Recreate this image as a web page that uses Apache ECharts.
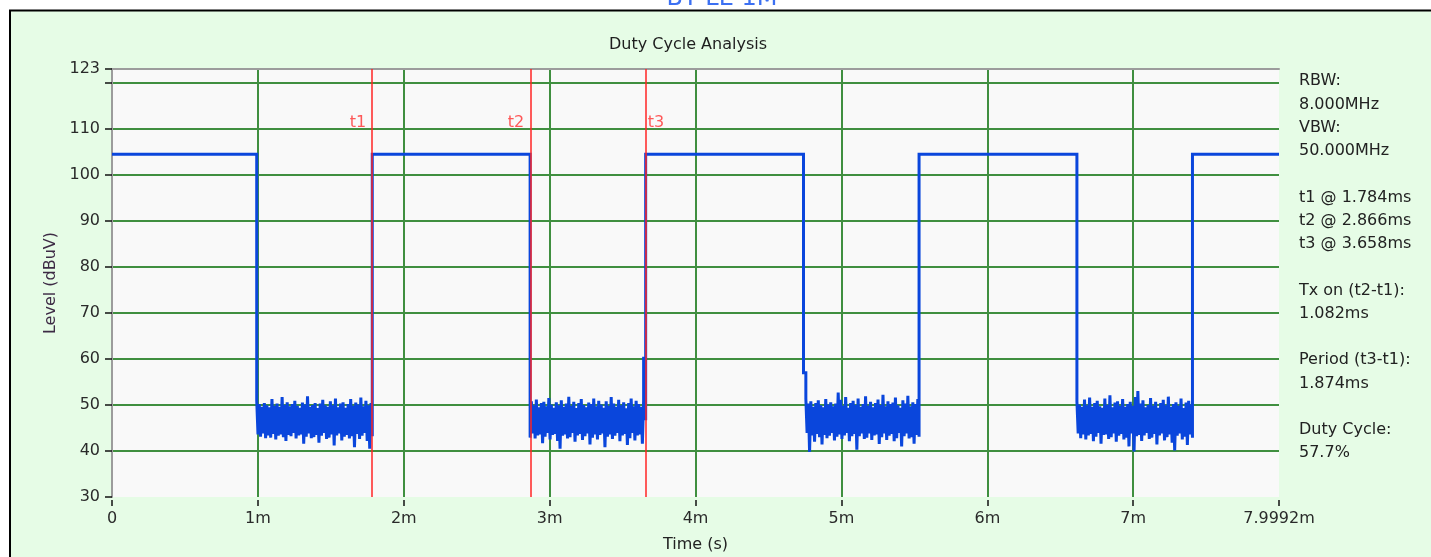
<!DOCTYPE html>
<html><head><meta charset="utf-8">
<script src="https://cdn.jsdelivr.net/npm/echarts@6/dist/echarts.min.js"></script>
<style>html,body{margin:0;padding:0;background:#fff}#c{width:1431px;height:557px}</style>
</head><body><div id="c"></div>
<script>
// ---------- data ----------
const xMin = 0, xMax = 7.9992, xInterval = 1;          // ms
const yMin = 30, yMax = 123, yInterval = 10;           // dBuV
const hiddenYLabel = 120;
const markerNames = ['t1', 't2', 't3'];
const markerTimes = [1.784, 2.866, 3.658];
const markerLabelLevel = 111.3;
const highLevel = 104.5;
const fallTimes = [0.992, 2.866, 4.740, 6.614];
const riseTimes = [1.784, 3.658, 5.532, 7.406];
const fallStep = [null, null, 57, null];
const riseSpike = [null, 60.5, null, null];
const riseFoot = 47;
const noise1 = [51.0,43.6,50.2,43.1,49.6,43.8,50.4,42.8,49.9,43.4,49.5,42.9,51.3,43.7,49.8,42.5,50.3,43.3,49.6,43.6,51.7,43.0,50.0,42.2,50.6,43.5,49.7,43.2,50.2,43.9,50.9,42.7,49.8,43.4,49.4,43.6,50.5,41.6,50.1,43.1,51.9,43.8,49.6,42.8,50.0,43.0,50.4,43.5,49.3,41.8,50.3,43.3,51.1,43.9,49.9,42.6,49.6,42.9,50.8,43.6,49.9,41.2,51.4,43.4,49.5,43.8,50.3,42.3,50.6,43.1,49.4,43.5,50.2,42.7,51.3,43.2,49.8,40.8,50.5,43.7,50.1,42.6,51.6,43.3,49.7,43.9,50.9,42.2,49.9,40.5,50.4,43.2];
const noise2 = [42.9,50.8,43.8,49.9,42.7,51.2,43.4,49.5,43.6,50.4,41.7,50.7,43.1,49.7,43.9,51.5,42.5,50.1,43.5,49.4,43.7,50.6,42.2,49.9,40.5,51.0,43.3,49.6,43.6,50.3,42.7,51.8,43.0,49.8,43.9,50.7,42.0,49.3,43.4,50.4,43.7,51.3,42.4,50.0,43.2,49.5,43.8,50.5,41.4,50.2,42.9,51.4,43.6,49.7,42.5,50.9,43.5,50.1,43.8,49.4,40.8,50.8,43.1,49.8,43.6,51.7,42.6,50.3,43.3,49.6,43.9,51.1,42.1,49.9,43.4,50.6,43.7,49.3,41.3,50.4,42.8,51.4,43.9,49.7,42.3,50.9,43.4,50.2,43.6,49.6,41.6,51.0];
const noise3 = [51.4,43.9,50.3,39.8,50.8,43.4,49.6,42.0,50.4,43.7,51.0,43.0,49.9,41.4,49.5,43.5,51.3,42.8,50.1,43.3,50.6,43.9,49.7,42.3,50.3,43.1,52.7,43.6,51.1,42.6,49.8,43.4,51.7,43.9,49.4,42.1,50.4,43.2,50.9,43.7,50.0,40.3,51.4,43.2,49.6,43.8,50.2,42.6,51.9,42.9,49.8,43.8,50.7,42.4,49.5,43.4,50.4,43.6,51.2,41.5,50.0,43.0,52.2,43.8,49.7,42.4,50.8,43.3,50.2,43.7,50.5,42.1,51.6,42.8,49.9,43.9,49.4,41.0,51.0,43.2,50.3,43.8,52.0,42.7,49.7,43.0,50.6,41.6,50.2,43.5,51.3,43.1];
const noise4 = [50.8,43.8,50.1,42.8,49.6,43.6,51.2,42.5,49.9,43.4,51.6,43.7,49.6,42.1,50.4,43.1,50.9,43.9,49.7,41.6,49.4,43.5,51.4,43.6,50.0,42.6,52.1,43.0,49.5,43.8,50.5,42.0,50.8,43.3,49.8,43.7,51.3,42.5,49.6,42.9,50.2,41.0,50.7,43.8,49.8,39.9,51.7,43.2,53.0,43.5,50.3,42.2,51.0,43.4,49.5,43.9,50.0,42.6,51.5,42.9,49.8,43.7,50.7,41.4,49.4,43.4,50.4,43.8,51.1,42.3,49.9,43.0,51.8,43.6,49.6,41.8,50.2,40.1,50.6,43.3,49.8,43.8,51.4,42.5,49.3,43.1,50.5,41.3,50.9,43.6,50.1,42.9];
const infoLines = ['RBW:', '8.000MHz', 'VBW:', '50.000MHz', '', 't1 @ 1.784ms', 't2 @ 2.866ms', 't3 @ 3.658ms', '', 'Tx on (t2-t1):', '1.082ms', '', 'Period (t3-t1):', '1.874ms', '', 'Duty Cycle:', '57.7%'];
const chartTitle = 'Duty Cycle Analysis';
const headerText = 'BT LE 1M';

// ---------- build trace ----------
function buildTrace() {
  const noises = [noise1, noise2, noise3, noise4];
  const pts = [[xMin, highLevel]];
  for (let k = 0; k < fallTimes.length; k++) {
    const f = fallTimes[k], r = riseTimes[k], nz = noises[k];
    pts.push([f, highLevel]);
    let start = f, end = r;
    if (fallStep[k] != null) { pts.push([f, fallStep[k]]); start = f + 0.016; pts.push([start, fallStep[k]]); }
    if (riseSpike[k] != null) end = r - 0.014;
    for (let i = 0; i < nz.length; i++) {
      pts.push([start + (end - start) * i / (nz.length - 1), nz[i]]);
    }
    if (riseSpike[k] != null) { pts.push([end, riseSpike[k]]); pts.push([end, riseFoot]); pts.push([r, riseFoot]); }
    pts.push([r, highLevel]);
  }
  pts.push([xMax, highLevel]);
  return pts;
}

const FONT = 'DejaVu Sans';
const chart = echarts.init(document.getElementById('c'), null, {renderer: 'canvas'});
chart.setOption({
  animation: false,
  backgroundColor: '#e6fce6',
  title: [
    {text: chartTitle, left: 609, top: 37, padding: 0,
     textStyle: {fontFamily: FONT, fontSize: 16, fontWeight: 'normal', color: '#1e1e1e'}},
    {text: infoLines.join('\n'), left: 1299, top: 69.5, padding: 0,
     textStyle: {fontFamily: FONT, fontSize: 16, fontWeight: 'normal', color: '#222', lineHeight: 23.25}}
  ],
  grid: {left: 112, right: 152, top: 69, bottom: 60, show: true, backgroundColor: '#f9f9f9', borderWidth: 0, containLabel: false, outerBoundsMode: 'none'},
  xAxis: [
    {type: 'value', min: xMin, max: xMax, interval: xInterval, position: 'bottom', offset: 3,
     axisLine: {show: false},
     axisTick: {show: true, length: 6, lineStyle: {color: '#111', width: 1.5}},
     axisLabel: {margin: 11, color: '#2a2a2a', fontFamily: FONT, fontSize: 16, showMinLabel: true, showMaxLabel: true,
       formatter: v => v === 0 ? '0' : v + 'm'},
     splitLine: {show: true, showMinLine: false, showMaxLine: false, lineStyle: {color: '#408f40', width: 2}},
     name: 'Time (s)', nameLocation: 'middle', nameGap: 37,
     nameTextStyle: {fontFamily: FONT, fontSize: 16, color: '#222'}},
    {type: 'value', min: xMin, max: xMax, position: 'top',
     axisLine: {show: true, lineStyle: {color: '#9c9c9c', width: 2}},
     axisTick: {show: false}, axisLabel: {show: false}, splitLine: {show: false}}
  ],
  yAxis: [
    {type: 'value', min: yMin, max: yMax, interval: yInterval, position: 'left', offset: 2,
     axisLine: {show: false},
     axisTick: {show: true, length: 7, lineStyle: {color: '#111', width: 1.5}},
     axisLabel: {margin: 10, color: '#2a2a2a', fontFamily: FONT, fontSize: 16, showMinLabel: true, showMaxLabel: true,
       formatter: v => v === hiddenYLabel ? '' : String(v)},
     splitLine: {show: true, showMinLine: false, showMaxLine: false, lineStyle: {color: '#408f40', width: 2}},
     name: 'Level (dBuV)', nameLocation: 'middle', nameGap: 50,
     nameTextStyle: {fontFamily: FONT, fontSize: 16, color: '#3d2b45'}},
    {type: 'value', min: yMin, max: yMax, position: 'left', offset: 0,
     axisLine: {show: true, lineStyle: {color: '#9c9c9c', width: 2}},
     axisTick: {show: false}, axisLabel: {show: false}, splitLine: {show: false}}
  ],
  series: [
    {type: 'line', data: [], xAxisIndex: 0, yAxisIndex: 0, z: 2,
     markLine: {silent: true, symbol: ['none', 'none'], label: {show: false},
       lineStyle: {color: '#ff2424', width: 1.5, type: 'solid'},
       data: markerTimes.map(t => ({xAxis: t}))}},
    {type: 'line', data: buildTrace(), xAxisIndex: 0, yAxisIndex: 0, z: 3,
     showSymbol: false, symbol: 'none', sampling: null,
     lineStyle: {color: '#0a46dc', width: 3, join: 'miter', miterLimit: 2}},
    {type: 'scatter', xAxisIndex: 0, yAxisIndex: 0, z: 4, symbolSize: 0, silent: true,
     data: markerTimes.map((t, i) => ({value: [t, markerLabelLevel], name: markerNames[i],
       label: {position: i === markerTimes.length - 1 ? 'right' : 'left', distance: i === markerTimes.length - 1 ? 2 : 6}})),
     label: {show: true, formatter: p => p.name, color: '#ff3030', fontFamily: FONT, fontSize: 16}}
  ],
  graphic: [
    {type: 'rect', shape: {x: 0, y: 0, width: 1431, height: 10}, style: {fill: '#fff'}, z: 100},
    {type: 'rect', shape: {x: 0, y: 0, width: 10, height: 557}, style: {fill: '#fff'}, z: 100},
    {type: 'text', x: 722, y: 11, z: 101, style: {text: headerText, font: '24px "DejaVu Sans"', fill: '#3c70f2', align: 'center', verticalAlign: 'bottom'}},
    {type: 'line', shape: {x1: 9, y1: 10.5, x2: 1431, y2: 10.5}, style: {stroke: '#000', lineWidth: 2}, z: 102},
    {type: 'line', shape: {x1: 10, y1: 10, x2: 10, y2: 557}, style: {stroke: '#000', lineWidth: 2}, z: 102}
  ]
});
</script></body></html>
